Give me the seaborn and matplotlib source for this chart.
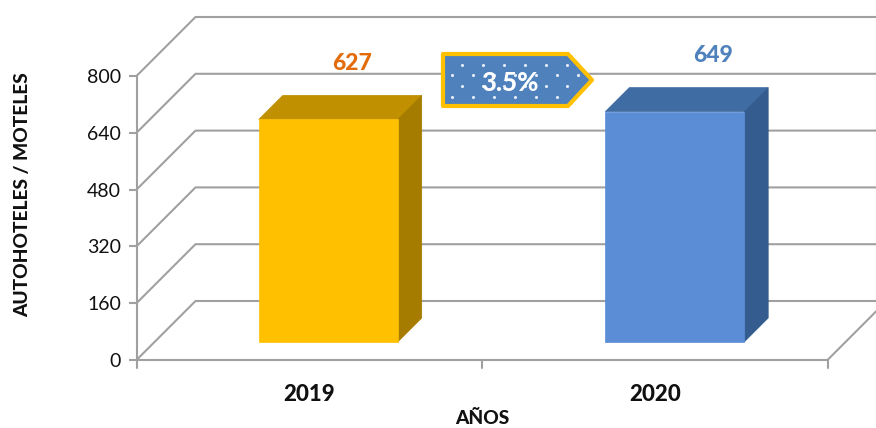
import matplotlib
matplotlib.use('Agg')
import matplotlib.pyplot as plt
import seaborn as sns
import pandas as pd
from matplotlib.patches import Polygon

years = ['2019', '2020']
motels = [627, 649]
y_ticks = [0, 160, 320, 480, 640, 800]
change_label = '3.5%'

front_colors = ['#FFC000', '#5A8DD6']
top_colors = ['#C09000', '#3F6CA3']
side_colors = ['#A67C00', '#355C8E']
label_colors = ['#E36C0A', '#4F81BD']
grid_color = '#A0A0A0'

# one category is 345.5 px wide, 800 units are 284 px high
px_x = 1 / 345.5
px_y = 800 / 284

wall_dx, wall_dy = 59 * px_x, 59 * px_y
bar_dx, bar_dy = 24 * px_x, 24 * px_y
bar_base = 18 * px_y
bar_shift = [19 * px_x, 20 * px_x]
label_dx = [24 * px_x, 38 * px_x]

sns.set_style('white')
plt.rcParams['font.family'] = ['Lato', 'DejaVu Sans']

fig = plt.figure(figsize=(8.76, 4.28), dpi=100)
ax = fig.add_axes([136.5 / 876, (428 - 360) / 428, 691 / 876, 284 / 428])

df = pd.DataFrame({'year': years, 'motels': motels})
sns.barplot(data=df, x='year', y='motels', hue='year', palette=front_colors,
            legend=False, width=0.402, saturation=1, ax=ax, zorder=3)

ax.set_xlim(-0.5, 1.5)
ax.set_ylim(0, 800)

# walls and floor of the 3d box
for t in y_ticks:
    ax.plot([-0.5, -0.5 + wall_dx, 1.5 + wall_dx], [t, t + wall_dy, t + wall_dy],
            color=grid_color, lw=1.5, clip_on=False, zorder=1)
ax.plot([-0.5, 1.5, 1.5 + wall_dx], [0, 0, wall_dy], color=grid_color, lw=1.5,
        clip_on=False, zorder=1)

# move bars up off the floor and add the top and side faces
for i, patch in enumerate(ax.patches[:len(years)]):
    patch.set_x(patch.get_x() + bar_shift[i])
    patch.set_y(bar_base)
    patch.set_edgecolor(front_colors[i])
    patch.set_linewidth(0.5)
    x0 = patch.get_x()
    x1 = x0 + patch.get_width()
    y0 = bar_base
    y1 = y0 + motels[i]
    ax.add_patch(Polygon([(x0, y1), (x1, y1), (x1 + bar_dx, y1 + bar_dy), (x0 + bar_dx, y1 + bar_dy)],
                         facecolor=top_colors[i], edgecolor=top_colors[i], lw=0.5, clip_on=False, zorder=2.9))
    ax.add_patch(Polygon([(x1, y0), (x1 + bar_dx, y0 + bar_dy), (x1 + bar_dx, y1 + bar_dy), (x1, y1)],
                         facecolor=side_colors[i], edgecolor=side_colors[i], lw=0.5, clip_on=False, zorder=2.9))
    ax.text(i + bar_shift[i] + label_dx[i], motels[i] + 208, str(motels[i]), color=label_colors[i],
            fontsize=16.5, fontweight='black', ha='center', va='center')

for side in ['top', 'right']:
    ax.spines[side].set_visible(False)
ax.spines['left'].set_color(grid_color)
ax.spines['left'].set_linewidth(1.5)
ax.spines['bottom'].set_visible(False)

ax.set_yticks(y_ticks)
ax.tick_params(axis='y', left=True, length=6, width=1.5, color=grid_color, labelsize=14,
               labelcolor='#111111', pad=5)
ax.set_xticks([0, 1])
ax.set_xticklabels(years, fontsize=16, fontweight='black', color='#111111')
ax.tick_params(axis='x', bottom=False, pad=14)
for edge in [-0.5, 0.5, 1.5]:
    ax.plot([edge, edge], [0, -8 * px_y], color=grid_color, lw=1.5, clip_on=False, zorder=1)

ax.set_xlabel('')
ax.set_ylabel('')
fig.text(23 / 876, 1 - 195 / 428, 'AUTOHOTELES / MOTELES', rotation=90, fontsize=13.8,
         fontweight='black', ha='center', va='center', color='#111111')
fig.text(482 / 876, 1 - 419 / 428, 'AÑOS', fontsize=13.8, fontweight='black',
         ha='center', va='center', color='#111111')

# arrow badge, laid out in figure pixels
over = fig.add_axes([0, 0, 1, 1], facecolor='none')
over.set_xlim(0, 876)
over.set_ylim(428, 0)
over.axis('off')
outline = [(443, 54), (568, 54), (592, 80), (568, 106), (443, 106)]
badge = Polygon(outline, closed=True, facecolor='#4F81BD', edgecolor='#FFC000', lw=3,
                joinstyle='round', zorder=5)
over.add_patch(badge)
dots_x, dots_y = [], []
for row, y in enumerate([65, 75, 86, 97]):
    start = 462 if row % 2 == 0 else 452
    for k in range(7):
        dots_x.append(start + 21 * k)
        dots_y.append(y)
dots = over.scatter(dots_x, dots_y, s=5, color='#E4ECF8', linewidths=0, zorder=6)
dots.set_clip_path(badge)
over.text(510, 83, change_label, color='white', fontsize=18.5, fontweight='black',
          ha='center', va='center', zorder=7)

fig.savefig('out.png', dpi=100)
